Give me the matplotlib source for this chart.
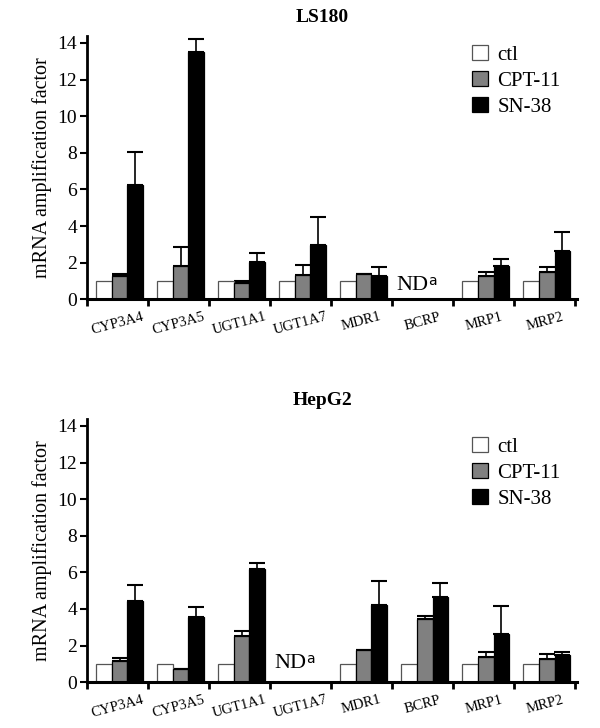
import numpy as np
import matplotlib.pyplot as plt
from matplotlib.patches import Patch

genes = ['CYP3A4', 'CYP3A5', 'UGT1A1', 'UGT1A7', 'MDR1', 'BCRP', 'MRP1', 'MRP2']
series = ['ctl', 'CPT-11', 'SN-38']

# LS180 (BCRP not determined)
ls_ctl = [1, 1, 1, 1, 1, np.nan, 1, 1]
ls_cpt = [1.27, 1.80, 0.88, 1.33, 1.37, np.nan, 1.27, 1.47]
ls_cpt_err = [0.11, 1.04, 0.12, 0.54, 0.03, np.nan, 0.23, 0.31]
ls_sn = [6.25, 13.5, 2.05, 2.98, 1.27, np.nan, 1.82, 2.62]
ls_sn_err = [1.79, 0.70, 0.48, 1.49, 0.48, np.nan, 0.36, 1.07]

# HepG2 (UGT1A7 not determined)
hg_ctl = [1, 1, 1, np.nan, 1, 1, 1, 1]
hg_cpt = [1.17, 0.72, 2.50, np.nan, 1.77, 3.46, 1.40, 1.28]
hg_cpt_err = [0.16, 0.0, 0.29, np.nan, 0.0, 0.18, 0.24, 0.25]
hg_sn = [4.45, 3.54, 6.18, np.nan, 4.23, 4.65, 2.64, 1.48]
hg_sn_err = [0.85, 0.56, 0.31, np.nan, 1.29, 0.74, 1.51, 0.16]

colors = ['white', '#808080', 'black']
plt.rcParams['font.family'] = ['Liberation Serif', 'DejaVu Serif']


def draw_panel(ax, title, ctl, cpt, cpt_err, sn, sn_err, nd_idx, nd_y, leg_y):
    x = np.arange(len(genes))
    w = 0.255
    offs = [0.15, 0.405, 0.66]
    vals = [ctl, cpt, sn]
    errs = [None, cpt_err, sn_err]
    for k in range(3):
        v = np.array(vals[k], dtype=float)
        xs = x + offs[k] + w / 2
        ax.bar(xs, v, w, color=colors[k], edgecolor='black' if k else '#555555',
               linewidth=0.9, zorder=2)
        if errs[k] is not None:
            e = np.array(errs[k], dtype=float)
            ax.errorbar(xs, v, yerr=[np.zeros_like(e), e], fmt='none',
                        ecolor='black', elinewidth=1.2, capsize=5.5,
                        capthick=1.5, zorder=1)

    ax.set_xlim(0, 8.03)
    ax.set_ylim(0, 14.4)
    ax.set_yticks(range(0, 15, 2))
    ax.tick_params(axis='y', labelsize=14, width=1.5, length=5, pad=2)
    ax.set_xticks(range(0, 9))
    ax.set_xticklabels([])
    ax.tick_params(axis='x', which='major', width=2, length=5, direction='out')
    ax.set_xticks(x + 0.5, minor=True)
    ax.set_xticklabels(genes, minor=True, rotation=15, fontsize=10.5)
    ax.tick_params(axis='x', which='minor', length=0, pad=8)
    for s in ['top', 'right']:
        ax.spines[s].set_visible(False)
    ax.spines['left'].set_linewidth(2)
    ax.spines['bottom'].set_linewidth(2.2)
    ax.set_ylabel('mRNA amplification factor', fontsize=14.5, labelpad=4)
    ax.set_title(title, fontsize=14, fontweight='bold', x=0.48, pad=10)

    ax.text(nd_idx + 0.6, nd_y, 'ND', ha='right', va='baseline', fontsize=16)
    ax.text(nd_idx + 0.59, nd_y + 0.3, 'a', ha='left', va='baseline',
            fontsize=10, family='DejaVu Sans')

    handles = [Patch(facecolor=c, edgecolor='black' if i else '#555555', linewidth=0.9)
               for i, c in enumerate(colors)]
    ax.legend(handles, series, loc='upper left', bbox_to_anchor=(0.765, leg_y),
              frameon=False, fontsize=15, handlelength=0.75, handleheight=0.75,
              handletextpad=0.45, labelspacing=0.3, borderpad=0)


fig = plt.figure(figsize=(6, 7.28), dpi=100)
ax1 = fig.add_axes([0.145, 0.589, 0.817, 0.362])
ax2 = fig.add_axes([0.145, 0.063, 0.817, 0.362])

draw_panel(ax1, 'LS180', ls_ctl, ls_cpt, ls_cpt_err, ls_sn, ls_sn_err, 5, 0.5, 1.005)
draw_panel(ax2, 'HepG2', hg_ctl, hg_cpt, hg_cpt_err, hg_sn, hg_sn_err, 3, 0.75, 0.97)

fig.savefig('out.png', dpi=100)
